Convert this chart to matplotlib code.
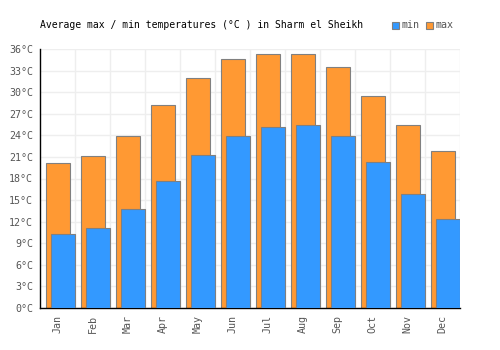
import numpy as np
import matplotlib.pyplot as plt
from matplotlib.patches import Rectangle

plt.rcParams['font.family'] = 'DejaVu Sans Mono'

months = ['Jan', 'Feb', 'Mar', 'Apr', 'May', 'Jun',
          'Jul', 'Aug', 'Sep', 'Oct', 'Nov', 'Dec']
t_max = [20.1, 21.1, 23.9, 28.2, 31.9, 34.6, 35.3, 35.3, 33.5, 29.4, 25.4, 21.8]
t_min = [10.25, 11.1, 13.7, 17.6, 21.2, 23.9, 25.1, 25.4, 23.9, 20.3, 15.8, 12.4]
y_ticks = [0, 3, 6, 9, 12, 15, 18, 21, 24, 27, 30, 33, 36]

orange = '#FF9933'
blue = '#3399FF'
edge = '#808080'

fig = plt.figure(figsize=(5, 3.5), dpi=100)
ax = fig.add_axes([0.08, 0.12, 0.84, 0.74])

x = np.arange(len(months))

# max bars behind, min bars in front and shifted right
ax.bar(x - 0.329, t_max, width=0.68, align='edge', color=orange,
       edgecolor=edge, linewidth=0.8, zorder=2)
ax.bar(x - 0.186, t_min, width=0.70, align='edge', color=blue,
       edgecolor=edge, linewidth=0.8, zorder=3)

ax.set_xlim(-0.5, 11.5)
ax.set_ylim(0, 36)

ax.set_yticks(y_ticks)
ax.set_yticklabels(['{}°C'.format(v) for v in y_ticks])
ax.set_xticks(x)
ax.set_xticklabels(months, rotation=90)
ax.set_xticks(x + 0.5, minor=True)

ax.tick_params(axis='both', which='both', length=0, labelsize=7.2,
               labelcolor='#555555', pad=5)
ax.grid(True, axis='y', color='#eeeeee', linewidth=1, zorder=0)
ax.grid(True, axis='x', which='minor', color='#eeeeee', linewidth=1, zorder=0)
ax.set_axisbelow(True)

for s in ['top', 'right']:
    ax.spines[s].set_visible(False)
ax.spines['left'].set_color('black')
ax.spines['bottom'].set_color('black')
ax.spines['left'].set_linewidth(1)
ax.spines['bottom'].set_linewidth(1)

# title
fig.text(40 / 500, 1 - 25 / 350, 'Average max / min temperatures (°C ) in Sharm el Sheikh',
         fontsize=7.0, color='black', va='center', ha='left')

# legend
for px, label, col in [(392, 'min', blue), (426, 'max', orange)]:
    fig.patches.append(Rectangle((px / 500, 1 - 29 / 350), 7 / 500, 7 / 350,
                                 transform=fig.transFigure, facecolor=col,
                                 edgecolor=edge, linewidth=0.8))
    fig.text((px + 9) / 500, 1 - 25 / 350, label, fontsize=7.2,
             color='#555555', va='center', ha='left')

plt.savefig('out.png', dpi=100)
